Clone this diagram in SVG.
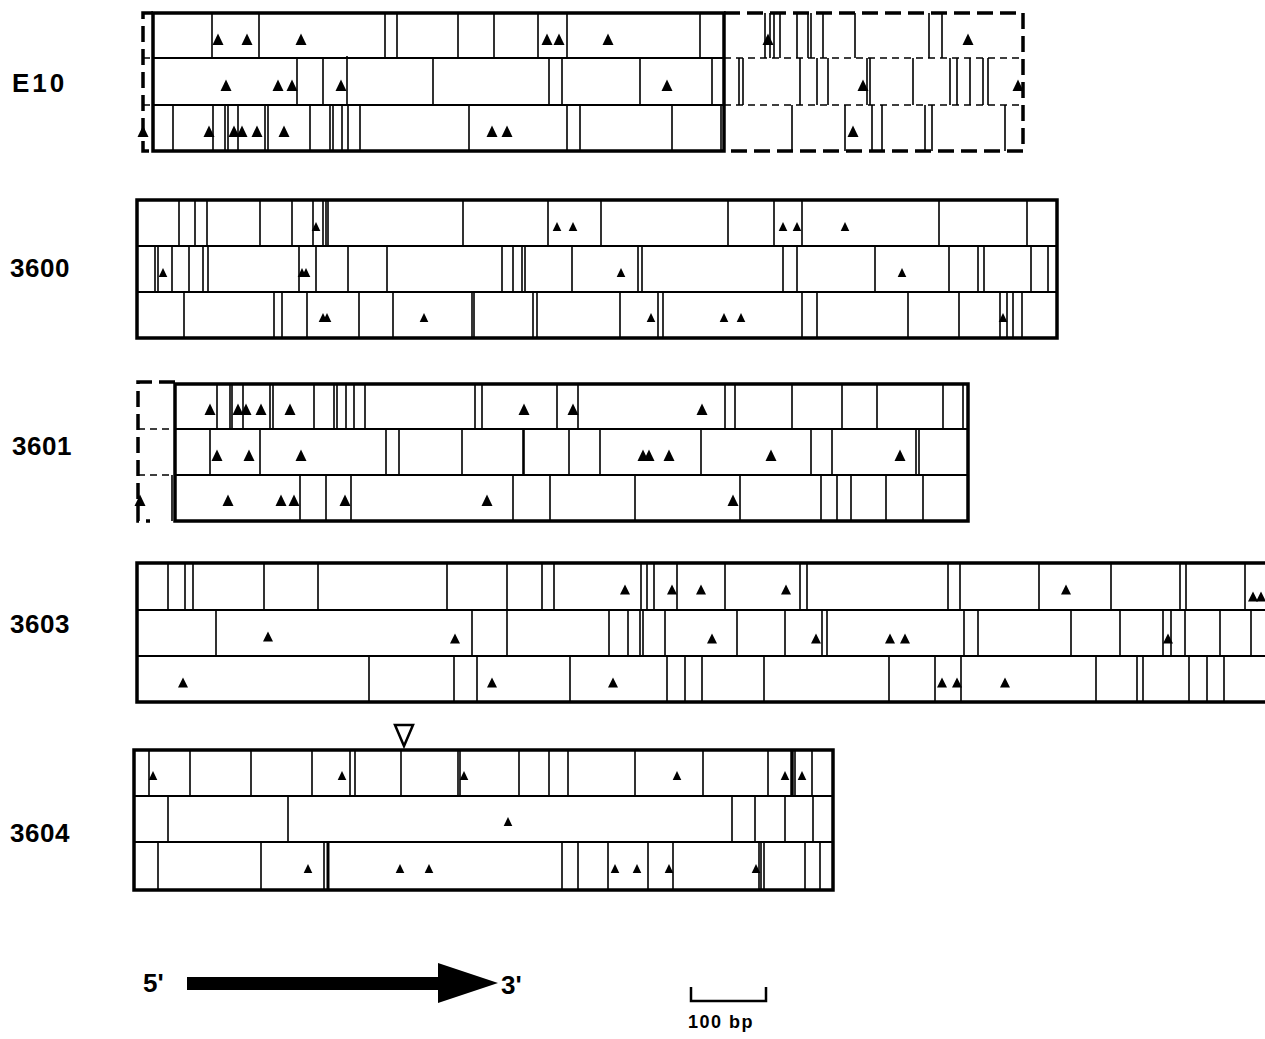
<svg xmlns="http://www.w3.org/2000/svg" xmlns:xlink="http://www.w3.org/1999/xlink" width="1265" height="1039" viewBox="0 0 1265 1039">
<style>
.box{fill:none;stroke:#000;stroke-width:3.5}
.dv{fill:none;stroke:#000;stroke-width:2}
.ln{fill:none;stroke:#000;stroke-width:1.6}
.dsh{fill:none;stroke:#000;stroke-width:3.5;stroke-dasharray:16 7}
.tds{fill:none;stroke:#000;stroke-width:1.5;stroke-dasharray:7 5}
.lbl{font-family:"Liberation Sans",Arial,sans-serif;font-weight:bold;font-size:26px;fill:#000}
.sm{font-family:"Liberation Sans",Arial,sans-serif;font-weight:bold;font-size:18px;fill:#000;letter-spacing:1.5px}
</style>
<defs>
<path id="tL" d="M0,-6.5L5.5,5H-5.5Z" fill="#000"/>
<path id="tM" d="M0,-5.5L5,4.5H-5Z" fill="#000"/>
<path id="tS" d="M0,-5L4.3,4H-4.3Z" fill="#000"/>
</defs>
<rect width="1265" height="1039" fill="#fff"/>

<g id="labels">
<text class="lbl" x="12" y="92" letter-spacing="3">E10</text>
<text class="lbl" x="10" y="277" letter-spacing="0.5">3600</text>
<text class="lbl" x="12" y="455" letter-spacing="0.5">3601</text>
<text class="lbl" x="10" y="633" letter-spacing="0.5">3603</text>
<text class="lbl" x="10" y="842" letter-spacing="0.5">3604</text>
</g>

<g id="E10">
<path class="dsh" d="M153 13H143V151H153"/>
<path class="tds" d="M143 58H153M143 105H153"/>
<path class="dsh" d="M724 13H1023V151H724"/>
<path class="tds" d="M724 58H1023M724 105H1023"/>
<rect class="box" x="153" y="13" width="571" height="138"/>
<path class="dv" d="M153 58H724M153 105H724"/>
<path class="ln" d="M212 14V58M259 14V58M385 14V58M397 14V58M458 14V58M494 14V58M538 14V58M567 14V58M700 14V58"/>
<path class="ln" d="M297 58V105M323 58V105M347 56V105M433 58V105M549 58V105M562 58V105M640 58V105M712 58V105"/>
<path class="ln" d="M173 105V151M213 105V151M225 105V151M228 105V151M238 105V151M265 105V151M268 105V151M310 105V151M330 105V151M333 105V151M342 105V151M348 105V151M360 105V151M469 105V151M567 105V151M580 105V151M672 105V151M721 105V151"/>
<path class="ln" d="M765 13V58M770 13V58M774 13V58M780 13V58M797 13V58M808 13V58M811 13V58M823 13V58M855 13V58M929 13V58M942 13V58"/>
<path class="ln" d="M739 58V105M743 58V105M800 58V105M817 58V105M828 58V105M867 58V105M870 58V105M913 58V105M950 58V105M957 58V105M970 58V105M983 58V105M988 58V105"/>
<path class="ln" d="M792 105V151M845 105V151M872 105V151M882 105V151M925 105V151M932 105V151M1005 105V151"/>
<use href="#tL" x="218" y="40"/><use href="#tL" x="247" y="40"/><use href="#tL" x="301" y="40"/><use href="#tL" x="547" y="40"/><use href="#tL" x="559" y="40"/><use href="#tL" x="608" y="40"/><use href="#tL" x="768" y="40"/><use href="#tL" x="968" y="40"/>
<use href="#tL" x="226" y="86"/><use href="#tL" x="278" y="86"/><use href="#tL" x="292" y="86"/><use href="#tL" x="341" y="86"/><use href="#tL" x="667" y="86"/><use href="#tL" x="863" y="86"/><use href="#tL" x="1018" y="86"/>
<use href="#tL" x="143" y="132"/><use href="#tL" x="209" y="132"/><use href="#tL" x="234" y="132"/><use href="#tL" x="242" y="132"/><use href="#tL" x="257" y="132"/><use href="#tL" x="284" y="132"/><use href="#tL" x="492" y="132"/><use href="#tL" x="507" y="132"/><use href="#tL" x="853" y="132"/>
</g>

<g id="n3600">
<rect class="box" x="137" y="200" width="920" height="138"/>
<path class="dv" d="M137 246H1057M137 292H1057"/>
<path class="ln" d="M179 200V246M195 200V246M207 200V246M260 200V246M292 200V246M313 200V246M323 200V246M326 200V246M328 200V246M463 200V246M548 200V246M601 200V246M728 200V246M774 200V246M802 200V246M939 200V246M1027 200V246"/>
<path class="ln" d="M155 246V292M158 246V292M172 246V292M189 246V292M203 246V292M208 246V292M299 246V292M316 246V292M348 246V292M387 246V292M502 246V292M513 246V292M522 246V292M525 246V292M572 246V292M638 246V292M642 246V292M783 246V292M797 246V292M875 246V292M949 246V292M978 246V292M984 246V292M1031 246V292M1048 246V292"/>
<path class="ln" d="M184 292V338M274 292V338M282 292V338M307 292V338M359 292V338M393 292V338M472 292V338M474 292V338M533 292V338M537 292V338M620 292V338M658 292V338M663 292V338M802 292V338M817 292V338M908 292V338M959 292V338M1000 292V338M1007 292V338M1013 292V338M1022 292V338"/>
<use href="#tS" x="316" y="227"/><use href="#tS" x="557" y="227"/><use href="#tS" x="573" y="227"/><use href="#tS" x="783" y="227"/><use href="#tS" x="797" y="227"/><use href="#tS" x="845" y="227"/>
<use href="#tS" x="163" y="273"/><use href="#tS" x="302" y="273"/><use href="#tS" x="306" y="273"/><use href="#tS" x="621" y="273"/><use href="#tS" x="902" y="273"/>
<use href="#tS" x="323" y="318"/><use href="#tS" x="327" y="318"/><use href="#tS" x="424" y="318"/><use href="#tS" x="651" y="318"/><use href="#tS" x="724" y="318"/><use href="#tS" x="741" y="318"/><use href="#tS" x="1003" y="318"/>
</g>

<g id="n3601">
<path class="dsh" d="M175 382H138V521H150"/>
<path class="tds" d="M138 429H175M138 475H175"/>
<rect class="box" x="175" y="384" width="793" height="137"/>
<path class="dv" d="M175 429H968M175 475H968"/>
<path class="ln" d="M217 384V429M230 384V429M232 384V429M243 384V429M270 384V429M273 384V429M314 384V429M334 384V429M337 384V429M346 384V429M354 384V429M365 384V429M475 384V429M482 384V429M557 384V429M578 384V429M725 384V429M735 384V429M792 384V429M842 384V429M877 384V429M943 384V429M963 384V429"/>
<path class="ln" d="M210 429V475M260 429V475M386 429V475M399 429V475M462 429V475M523 429V475M524 429V475M569 429V475M600 429V475M701 429V475M811 429V475M832 429V475M916 429V475M919 429V475"/>
<path class="ln" d="M172 475V521M300 475V521M326 475V521M351 475V521M513 475V521M550 475V521M635 475V521M740 475V521M821 475V521M837 475V521M851 475V521M886 475V521M923 475V521"/>
<use href="#tL" x="210" y="410"/><use href="#tL" x="238" y="410"/><use href="#tL" x="246" y="410"/><use href="#tL" x="261" y="410"/><use href="#tL" x="290" y="410"/><use href="#tL" x="524" y="410"/><use href="#tL" x="573" y="410"/><use href="#tL" x="702" y="410"/>
<use href="#tL" x="217" y="456"/><use href="#tL" x="249" y="456"/><use href="#tL" x="301" y="456"/><use href="#tL" x="643" y="456"/><use href="#tL" x="649" y="456"/><use href="#tL" x="669" y="456"/><use href="#tL" x="771" y="456"/><use href="#tL" x="900" y="456"/>
<use href="#tL" x="140" y="501"/><use href="#tL" x="228" y="501"/><use href="#tL" x="281" y="501"/><use href="#tL" x="294" y="501"/><use href="#tL" x="345" y="501"/><use href="#tL" x="487" y="501"/><use href="#tL" x="733" y="501"/>
</g>

<g id="n3603">
<rect class="box" x="137" y="563" width="1135" height="139"/>
<path class="dv" d="M137 610H1270M137 656H1270"/>
<path class="ln" d="M168 563V610M185 563V610M193 563V610M264 563V610M318 563V610M447 563V610M507 563V610M542 563V610M554 563V610M641 563V610M647 563V610M654 563V610M677 563V610M725 563V610M800 563V610M807 563V610M948 563V610M960 563V610M1039 563V610M1111 563V610M1180 563V610M1186 563V610M1245 563V610"/>
<path class="ln" d="M216 610V656M472 610V656M507 610V656M609 610V656M628 610V656M640 610V656M643 610V656M665 610V656M737 610V656M785 610V656M822 610V656M827 610V656M964 610V656M978 610V656M1071 610V656M1120 610V656M1163 610V656M1171 610V656M1185 610V656M1220 610V656M1251 610V656"/>
<path class="ln" d="M369 656V702M454 656V702M477 656V702M570 656V702M667 656V702M685 656V702M702 656V702M764 656V702M889 656V702M935 656V702M961 656V702M1096 656V702M1137 656V702M1143 656V702M1189 656V702M1207 656V702M1224 656V702"/>
<use href="#tM" x="625" y="590"/><use href="#tM" x="672" y="590"/><use href="#tM" x="701" y="590"/><use href="#tM" x="786" y="590"/><use href="#tM" x="1066" y="590"/><use href="#tM" x="1253" y="597"/><use href="#tM" x="1261" y="597"/>
<use href="#tM" x="268" y="637"/><use href="#tM" x="455" y="639"/><use href="#tM" x="712" y="639"/><use href="#tM" x="816" y="639"/><use href="#tM" x="890" y="639"/><use href="#tM" x="905" y="639"/><use href="#tM" x="1168" y="639"/>
<use href="#tM" x="183" y="683"/><use href="#tM" x="492" y="683"/><use href="#tM" x="613" y="683"/><use href="#tM" x="942" y="683"/><use href="#tM" x="957" y="683"/><use href="#tM" x="1005" y="683"/>
</g>

<g id="n3604">
<polygon points="395,725 413,725 404,746" fill="#fff" stroke="#000" stroke-width="2.5"/>
<rect class="box" x="134" y="750" width="699" height="140"/>
<path class="dv" d="M134 796H833M134 842H833"/>
<path class="ln" d="M149 750V796M190 750V796M251 750V796M312 750V796M350 750V796M355 750V796M401 750V796M458 750V796M460 750V796M519 750V796M549 750V796M568 750V796M635 750V796M703 750V796M768 750V796M795 750V796M812 750V796"/>
<path d="M792 750V796" stroke="#000" stroke-width="3.5"/>
<path class="ln" d="M168 796V842M288 796V842M732 796V842M755 796V842M785 796V842M813 796V842"/>
<path class="ln" d="M158 842V890M261 842V890M324 842V890M562 842V890M578 842V890M608 842V890M648 842V890M673 842V890M759 842V890M761 842V890M764 842V890M805 842V890M820 842V890"/>
<path d="M328 842V890" stroke="#000" stroke-width="3"/>
<use href="#tS" x="153" y="776"/><use href="#tS" x="342" y="776"/><use href="#tS" x="464" y="776"/><use href="#tS" x="677" y="776"/><use href="#tS" x="785" y="776"/><use href="#tS" x="802" y="776"/>
<use href="#tS" x="508" y="822"/>
<use href="#tS" x="308" y="869"/><use href="#tS" x="400" y="869"/><use href="#tS" x="429" y="869"/><use href="#tS" x="615" y="869"/><use href="#tS" x="637" y="869"/><use href="#tS" x="669" y="869"/><use href="#tS" x="756" y="869"/>
</g>

<g id="legend">
<text class="lbl" x="143" y="992" font-size="24">5'</text>
<rect x="187" y="977" width="253" height="13" fill="#000"/>
<polygon points="438,963 498,983 438,1003" fill="#000"/>
<text class="lbl" x="501" y="994" font-size="24">3'</text>
<path d="M691 987V1001H766V987" fill="none" stroke="#000" stroke-width="2.5"/>
<text class="sm" x="688" y="1028">100 bp</text>
</g>
</svg>
